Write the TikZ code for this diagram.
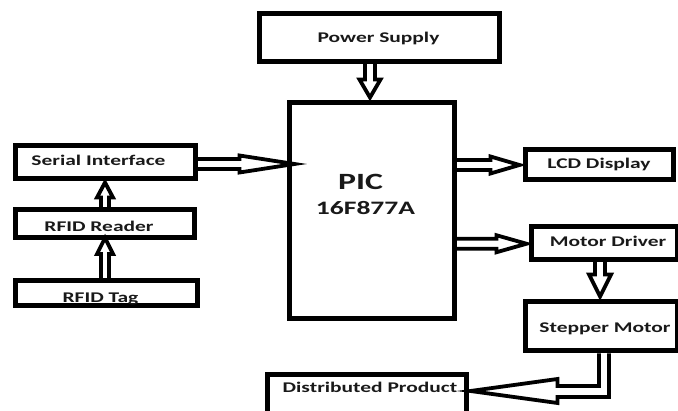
\documentclass[tikz,border=0pt]{standalone}
\usepackage{fontspec}
\newfontfamily\lblfont[FakeStretch=1.45]{Carlito}
\usetikzlibrary{calc,backgrounds}
\pgfdeclarelayer{paper}
\pgfsetlayers{paper,background,main}
\newcommand\hlwarrow[5]{%
  \coordinate (ha-b) at ($(#2)!#5!(#1)$);
  \draw[harrow] ($(#1)!#3!90:(#2)$) -- ($(ha-b)!#3!-90:(#1)$) -- ($(ha-b)!#4!-90:(#1)$)
    -- (#2) -- ($(ha-b)!#4!90:(#1)$) -- ($(ha-b)!#3!90:(#1)$) -- ($(#1)!#3!-90:(#2)$);}
\tikzset{
  box/.style={draw=black, line width=5pt, rectangle, inner sep=0pt},
  harrow/.style={draw=black, fill=white, line width=3.8pt, line join=miter},
  lbl/.style={anchor=base, inner sep=0pt, text=black!90,
    font=\lblfont\bfseries\fontsize{14.8}{16}\selectfont},
}
\begin{document}
\begin{tikzpicture}[x=1pt,y=-1pt]
\useasboundingbox (0,0) rectangle (678,411);
\clip (0,0) rectangle (678,411);
\begin{pgfonlayer}{paper}
\fill[white] (0,0) rectangle (678,411);
\end{pgfonlayer}
% boxes
\node[box, minimum width=240pt, minimum height=47.5pt] (ps)  at (379,37.75) {};
\node[box, minimum width=165pt, minimum height=216pt]  (pic) at (372,211) {};
\node[box, minimum width=180pt, minimum height=32.5pt] (ser) at (105,162.25) {};
\node[box, minimum width=179pt, minimum height=27.5pt] (rdr) at (104.5,223.75) {};
\node[box, minimum width=182pt, minimum height=24.5pt] (tag) at (106,293.25) {};
\node[box, minimum width=148pt, minimum height=30pt]   (lcd) at (599,164.5) {};
\node[box, minimum width=146pt, minimum height=32.5pt] (md)  at (604,243.25) {};
\node[box, minimum width=152pt, minimum height=49pt]   (sm)  at (601,326.5) {};
\node[box, minimum width=199.5pt, minimum height=51pt] (dp)  at (366.75,400) {};
% texts
\node[lbl] (t-ps)  at (378.5,43)  {Power Supply};
\node[lbl, font=\lblfont\bfseries\fontsize{23.3}{25}\selectfont] (t-pic) at (360.5,190) {PIC};
\node[lbl, font=\lblfont\bfseries\fontsize{19}{21}\selectfont] (t-pic2) at (365.5,215) {16F877A};
\node[lbl] (t-ser) at (98.5,166) {Serial Interface};
\node[lbl] (t-rdr) at (99,232)  {RFID Reader};
\node[lbl] (t-tag) at (100.5,302.5) {RFID Tag};
\node[lbl] (t-lcd) at (599,169) {LCD Display};
\node[lbl] (t-md)  at (608,247) {Motor Driver};
\node[lbl] (t-sm)  at (605,333) {Stepper Motor};
\node[lbl] (t-dp)  at (370,393) {Distributed Product};
% arrow end points
\coordinate (a1s) at ($(ps.south)+(-9,0)$);
\coordinate (a1e) at ($(pic.north)+(-2,-3)$);
\coordinate (a2s) at ($(ser.east)+(0,1.75)$);
\coordinate (a2e) at ($(pic.west |- ser.east)+(7.5,1.75)$);
\coordinate (a3s) at ($(pic.east |- lcd.west)+(0,0.5)$);
\coordinate (a3e) at ($(lcd.west)+(-3,0.5)$);
\coordinate (a4s) at ($(pic.east |- md.west)+(0,0.5)$);
\coordinate (a4e) at ($(md.west)+(-2,0.5)$);
\coordinate (a5s) at ($(md.south)+(-4,0)$);
\coordinate (a5e) at ($(sm.north -| md.south)+(-4,-3)$);
\coordinate (a6s) at ($(tag.north)+(-1,0)$);
\coordinate (a6e) at ($(rdr.south -| tag.north)+(-1,-2)$);
\coordinate (a7s) at ($(rdr.north)+(0.5,0)$);
\coordinate (a7e) at ($(ser.south -| rdr.north)+(0.5,1.5)$);
\coordinate (t8) at ($(dp.east)+(1.5,-9)$);
\begin{pgfonlayer}{background}
\hlwarrow{a1s}{a1e}{5pt}{10.5pt}{18pt}
\hlwarrow{a2s}{a2e}{5pt}{8.5pt}{55pt}
\hlwarrow{a3s}{a3e}{5pt}{8.5pt}{29pt}
\hlwarrow{a4s}{a4e}{5pt}{8.5pt}{30pt}
\hlwarrow{a5s}{a5e}{5pt}{11pt}{22pt}
\hlwarrow{a6s}{a6e}{4pt}{8pt}{16pt}
\hlwarrow{a7s}{a7e}{4pt}{8pt}{15pt}
\draw[harrow] ($(sm.south)+(-2,0)$) |- ($(t8)+(87,-5)$) -- ++(0,-7) -- (t8)
  -- ($(t8)+(87,12)$) -- ++(0,-6) -| ($(sm.south)+(8,0)$);
\end{pgfonlayer}
\end{tikzpicture}
\end{document}
